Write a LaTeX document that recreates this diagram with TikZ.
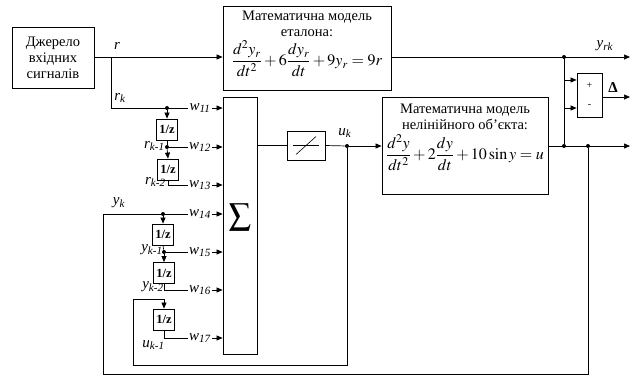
\documentclass[tikz,border=0pt]{standalone}
\usepackage{mathptmx}
\usepackage{fontspec}
\setmainfont{Liberation Serif}
\usetikzlibrary{arrows.meta}
\newcommand{\lbl}[2]{\textit{#1}\textsubscript{\textit{#2}}}
\begin{document}
\begin{tikzpicture}[x=1pt,y=-1pt,
  line width=0.7pt,
  blk/.style={draw,line width=0.8pt,inner sep=0pt,minimum width=#1},
  dly/.style={draw,line width=0.8pt,inner sep=0pt,minimum width=21pt,minimum height=21pt,font=\bfseries\fontsize{12.5}{12.5}\selectfont},
  arr/.style={-{Triangle[length=6pt,width=5pt]}},
  dot/.style={circle,fill,inner sep=0pt,minimum size=4pt},
  wl/.style={inner sep=1pt,font=\fontsize{15}{15}\selectfont},
  sl/.style={inner sep=1pt,font=\fontsize{15}{15}\selectfont},
  txt/.style={align=center,font=\fontsize{14.5}{16}\selectfont}]
\useasboundingbox (0,0) rectangle (633,376);
% blocks
\node[blk=82pt,minimum height=61pt,txt] (src) at (53,58) {Джерело\\вхідних\\сигналів};
\node[blk=168pt,minimum height=84pt] (ref) at (307,48) {};
\node[txt,anchor=north,inner sep=0pt] (reft) at (307,11) {Математична модель\\еталона:\\[3pt]{\fontsize{16}{18}\selectfont$\displaystyle \frac{d^2y_r}{dt^2}+6\frac{dy_r}{dt}+9y_r=9r$}};
\node[blk=166pt,minimum height=97pt] (plant) at (465,145.5) {};
\node[txt,anchor=north,inner sep=0pt] (plantt) at (465,104) {Математична модель\\нелінійного об’єкта:\\[4pt]{\fontsize{16}{18}\selectfont$\displaystyle \frac{d^2y}{dt^2}+2\frac{dy}{dt}+10\sin y=u$}};
\node[blk=34pt,minimum height=257pt] (sum) at (240,225.5) {};
\node (sig) at (240,217) {\fontsize{22}{22}\selectfont$\displaystyle\sum$};
\node[blk=38pt,minimum height=29pt] (sat) at (306,145.5) {};
\draw[line width=0.6pt] ([xshift=-13pt]sat.center) -- ([xshift=13pt]sat.center);
\draw[line width=0.6pt] ([xshift=-10pt,yshift=-9pt]sat.center) -- ([xshift=10pt,yshift=9pt]sat.center);
\node[blk=25pt,minimum height=44pt] (cmp) at (589.5,95) {};
\node[font=\fontsize{10}{10}\selectfont] (plus) at (589.5,86) {+};
\node[font=\fontsize{10}{10}\selectfont] (minus) at (589.5,106) {-};
% delays
\node[dly] (d1) at (167,129.5) {1/z};
\node[dly] (d2) at (168,169.5) {1/z};
\node[dly] (d3) at (163,234.5) {1/z};
\node[dly] (d4) at (164,273) {1/z};
\node[dly] (d5) at (164,319.5) {1/z};
% w labels
\node[wl] (w11) at (200,108) {\lbl{w}{11}};
\node[wl] (w12) at (200,147) {\lbl{w}{12}};
\node[wl] (w13) at (200,185) {\lbl{w}{13}};
\node[wl] (w14) at (200,214) {\lbl{w}{14}};
\node[wl] (w15) at (200,252) {\lbl{w}{15}};
\node[wl] (w16) at (200,290) {\lbl{w}{16}};
\node[wl] (w17) at (200,338) {\lbl{w}{17}};
\foreach \w in {w11,w12,w13,w14,w15,w16,w17} \draw[arr] (\w.east) -- (sum.west |- \w.east);
% coordinates and dots
\coordinate (rbr) at (111,57);
\coordinate (rk) at (111,108);
\node[dot] (j1) at (167,108) {};
\node[dot] (j2) at (167,147) {};
\coordinate (bl) at (103,214);
\node[dot] (j3) at (163,214) {};
\node[dot] (j4) at (164,252) {};
\node[dot] (ju) at (347,146) {};
\node[dot] (jy) at (564,57) {};
\node[dot] (jp1) at (564,146) {};
\node[dot] (jp2) at (588,146) {};
\coordinate (yrkend) at (630,57);
\coordinate (yend) at (630,146);
\coordinate (dend) at (630,97);
\coordinate (ul1) at (347,365);
\coordinate (ul2) at (133,365);
\coordinate (ul3) at (133,299);
\coordinate (ol1) at (588,374);
\coordinate (ol2) at (103,374);
% connections: r
\draw[arr] (src.east |- rbr) -- (ref.west |- rbr);
\draw (rbr) -- (rk) -- (w11.west);
\draw[arr] (j1) -- (d1.north);
\draw (d1.south) -- (j2);
\draw (j2) -- (w12.west);
\draw[arr] (j2) -- (d2.north);
\draw (d2.south) |- (w13.west);
% y
\draw (bl) -- (w14.west);
\draw[arr] (j3) -- (d3.north);
\draw (d3.south) -- (j4);
\draw (j4) -- (w15.west);
\draw[arr] (j4) -- (d4.north);
\draw (d4.south) |- (w16.west);
\draw[arr] (ju) -- (ul1) -- (ul2) -- (ul3) -| (d5.north);
\draw (d5.south) |- (w17.west);
% sum -> sat -> plant
\draw (sum.east |- sat.west) -- (sat.west);
\draw (sat.east) -- (ju);
\draw[arr] (ju) -- (plant.west |- ju);
% outputs
\draw[arr] (ref.east |- rbr) -- (yrkend);
\draw[arr] (jy) |- ([yshift=-13pt]cmp.west);
\draw[arr] (plant.east |- jp1) -- (yend);
\draw[arr] (jp1) |- ([yshift=15pt]cmp.west);
\draw[arr] (cmp.east |- dend) -- (dend);
\draw (jp2) -- (ol1) -- (ol2) -- (bl);
% signal labels
\node[sl] (lr) at (117,46) {\textit{r}};
\node[sl] (lrk) at (120,98) {\lbl{r}{k}};
\node[sl,anchor=east] (lrk1) at (166,146) {\lbl{r}{k-1}};
\node[sl,anchor=east] (lrk2) at (167,182) {\lbl{r}{k-2}};
\node[sl] (lyk) at (119,203) {\lbl{y}{k}};
\node[sl,anchor=east] (lyk1) at (164,250) {\lbl{y}{k-1}};
\node[sl,anchor=east] (lyk2) at (165,287) {\lbl{y}{k-2}};
\node[sl,anchor=east] (luk1) at (166,345) {\lbl{u}{k-1}};
\node[sl] (luk) at (345,133) {\lbl{u}{k}};
\node[sl] (lyrk) at (605,46) {\lbl{y}{rk}};
\node[sl] (ld) at (613,88) {\textbf{Δ}};
\end{tikzpicture}
\end{document}
